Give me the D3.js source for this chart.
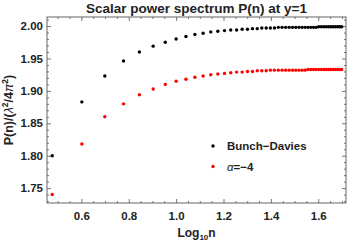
<!DOCTYPE html>
<html>
<head>
<meta charset="utf-8">
<script src="https://cdn.jsdelivr.net/npm/d3@7"></script>
<style>
  body { margin: 0; background: #fff; }
  text { font-family: "Liberation Sans", Arial, sans-serif; }
</style>
</head>
<body>
<div id="chart"></div>
<script>
// data: n = 3..50, plotted against log10(n)
const nValues = d3.range(3, 51);
const bunchDavies = [
  1.800, 1.883, 1.923, 1.946, 1.960, 1.969, 1.975, 1.980, 1.984, 1.987,
  1.989, 1.991, 1.992, 1.993, 1.994, 1.994, 1.995, 1.995, 1.996, 1.996,
  1.997, 1.997, 1.997, 1.997, 1.998, 1.998, 1.998, 1.998, 1.998, 1.998,
  1.998, 1.998, 1.998, 1.998, 1.998, 1.998, 1.998, 1.999, 1.999, 1.999,
  1.999, 1.999, 1.999, 1.999, 1.999, 1.999, 1.999, 1.999
];
const alphaMinus4 = [
  1.740, 1.818, 1.860, 1.880, 1.894, 1.903, 1.910, 1.915, 1.918, 1.921,
  1.923, 1.925, 1.926, 1.927, 1.928, 1.929, 1.929, 1.930, 1.930, 1.931,
  1.931, 1.931, 1.932, 1.932, 1.932, 1.932, 1.932, 1.932, 1.932, 1.932,
  1.932, 1.932, 1.932, 1.933, 1.933, 1.933, 1.933, 1.933, 1.933, 1.933,
  1.933, 1.933, 1.933, 1.933, 1.933, 1.933, 1.933, 1.933
];
const xTicks = [0.6, 0.8, 1.0, 1.2, 1.4, 1.6];
const yTicks = [1.75, 1.80, 1.85, 1.90, 1.95, 2.00];

const width = 349, height = 243;
const margin = {top: 17, right: 3, bottom: 40, left: 47};
const iw = width - margin.left - margin.right;
const ih = height - margin.top - margin.bottom;

const svg = d3.select("#chart").append("svg")
    .attr("width", width)
    .attr("height", height);

const x = d3.scaleLinear().domain([0.455, 1.717]).range([0, iw]);
const y = d3.scaleLinear().domain([1.727, 2.014]).range([ih, 0]);

const g = svg.append("g")
    .attr("transform", `translate(${margin.left},${margin.top})`);

const frameColor = "#555";
const textColor = "#222";

// minor ticks
const xMinor = d3.range(0.5, 1.71, 0.05).filter(v => !xTicks.some(t => Math.abs(t - v) < 1e-6));
const yMinor = d3.range(1.73, 2.011, 0.01).filter(v => !yTicks.some(t => Math.abs(t - v) < 1e-6));

function tickAxis(axis) {
  return sel => {
    sel.call(axis);
    sel.select(".domain").remove();
    sel.selectAll("line").attr("stroke", frameColor).attr("stroke-width", 0.8);
  };
}

// bottom axis (labels) + top axis (no labels)
g.append("g").attr("transform", `translate(0,${ih})`)
  .call(tickAxis(d3.axisBottom(x).tickValues(xMinor).tickSize(-2).tickFormat("")));
g.append("g").attr("transform", `translate(0,${ih})`)
  .call(tickAxis(d3.axisBottom(x).tickValues(xTicks).tickSize(-4).tickPadding(9).tickFormat(d3.format(".1f"))))
  .selectAll("text").attr("font-size", 11.5).attr("font-weight", "bold").attr("fill", textColor);
g.append("g")
  .call(tickAxis(d3.axisTop(x).tickValues(xMinor).tickSize(-2).tickFormat("")));
g.append("g")
  .call(tickAxis(d3.axisTop(x).tickValues(xTicks).tickSize(-4).tickFormat("")));

// left axis (labels) + right axis
g.append("g")
  .call(tickAxis(d3.axisLeft(y).tickValues(yMinor).tickSize(-2).tickFormat("")));
g.append("g")
  .call(tickAxis(d3.axisLeft(y).tickValues(yTicks).tickSize(-4).tickPadding(4).tickFormat(d3.format(".2f"))))
  .selectAll("text").attr("font-size", 11.5).attr("font-weight", "bold").attr("fill", textColor);
g.append("g").attr("transform", `translate(${iw},0)`)
  .call(tickAxis(d3.axisRight(y).tickValues(yMinor).tickSize(-2).tickFormat("")));
g.append("g").attr("transform", `translate(${iw},0)`)
  .call(tickAxis(d3.axisRight(y).tickValues(yTicks).tickSize(-4).tickFormat("")));

// frame
g.append("rect")
    .attr("width", iw).attr("height", ih)
    .attr("fill", "none").attr("stroke", frameColor).attr("stroke-width", 0.9);

// points
const series = [
  {values: bunchDavies, color: "#000"},
  {values: alphaMinus4, color: "#ff0000"}
];
series.forEach(s => {
  g.append("g").selectAll("circle")
    .data(nValues.map((n, i) => [Math.log10(n), s.values[i]]))
    .join("circle")
    .attr("cx", d => x(d[0]))
    .attr("cy", d => y(d[1]))
    .attr("r", 1.7)
    .attr("fill", s.color);
});

// title
svg.append("text")
    .attr("x", margin.left + iw / 2).attr("y", 13)
    .attr("text-anchor", "middle")
    .attr("font-size", 13.5).attr("font-weight", "bold").attr("fill", textColor)
    .text("Scalar power spectrum P(n) at y=1");

// x label
const xl = svg.append("text")
    .attr("x", margin.left + iw / 2).attr("y", 237)
    .attr("text-anchor", "middle")
    .attr("font-size", 12).attr("font-weight", "bold").attr("fill", textColor);
xl.append("tspan").text("Log");
xl.append("tspan").attr("font-size", 8).attr("dy", 3).text("10");
xl.append("tspan").attr("dy", -3).text("n");

// y label
const yl = svg.append("text")
    .attr("transform", `translate(13,${margin.top + ih / 2}) rotate(-90)`)
    .attr("text-anchor", "middle")
    .attr("font-size", 12.5).attr("font-weight", "bold").attr("fill", textColor);
yl.append("tspan").text("P(n)/(");
yl.append("tspan").attr("font-style", "italic").attr("font-weight", "normal").text("\u03bb");
yl.append("tspan").attr("font-size", 8.5).attr("dy", -5).text("2");
yl.append("tspan").attr("dy", 5).text("/4");
yl.append("tspan").attr("font-style", "italic").attr("font-weight", "normal").text("\u03c0");
yl.append("tspan").attr("font-size", 8.5).attr("dy", -5).text("2");
yl.append("tspan").attr("dy", 5).text(")");

// legend
const legend = svg.append("g").attr("transform", "translate(213,146)");
legend.append("circle").attr("r", 1.7).attr("fill", "#000");
legend.append("text").attr("x", 14).attr("y", 4)
    .attr("font-size", 11.5).attr("font-weight", "bold").attr("fill", textColor)
    .text("Bunch\u2212Davies");
legend.append("circle").attr("cy", 20.5).attr("r", 1.7).attr("fill", "#ff0000");
const lt = legend.append("text").attr("x", 14).attr("y", 24.5)
    .attr("font-size", 11.5).attr("font-weight", "bold").attr("fill", textColor);
lt.append("tspan").attr("font-style", "italic").attr("font-weight", "normal").text("\u03b1");
lt.append("tspan").text("=\u22124");
</script>
</body>
</html>
